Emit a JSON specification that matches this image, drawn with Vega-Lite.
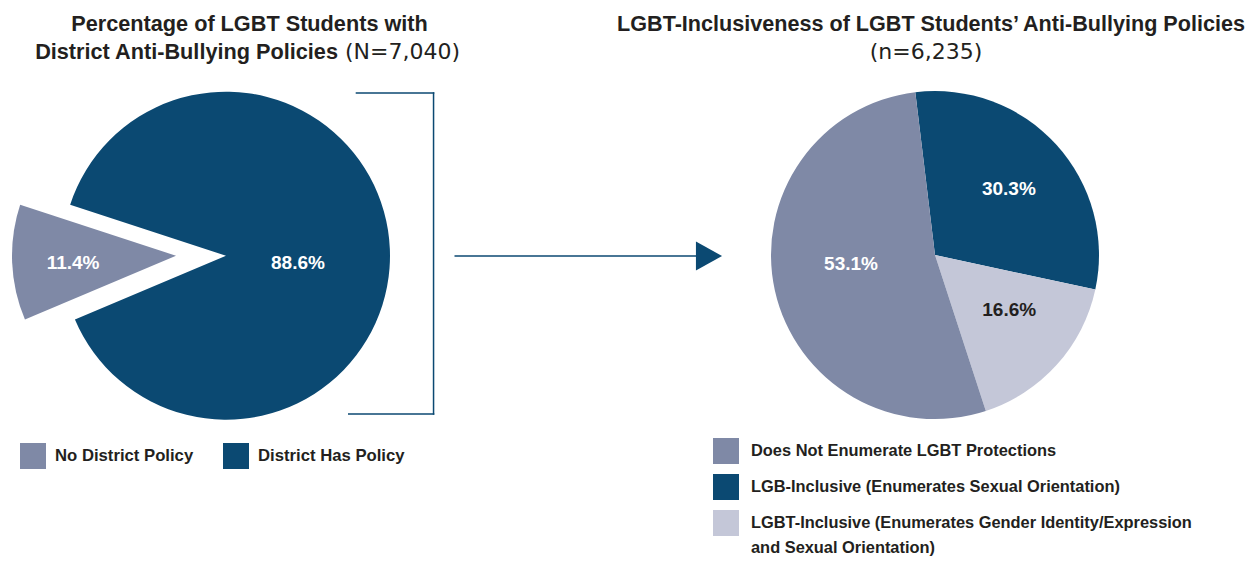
{
  "$schema": "https://vega.github.io/schema/vega-lite/v6.json",
  "width": 1256,
  "height": 563,
  "autosize": {"type": "fit", "contains": "padding"},
  "padding": 0,
  "background": "white",
  "config": {"view": {"stroke": null}, "font": "Liberation Sans"},
  "datasets": {
    "pol": [
      {"policy": "No District Policy", "share": 11.4, "ord": 1, "label": "11.4%"},
      {"policy": "District Has Policy", "share": 88.6, "ord": 2, "label": "88.6%"}
    ],
    "incl": [
      {"group": "LGB-Inclusive (Enumerates Sexual Orientation)", "pct": 30.3, "ord": 1, "label": "30.3%"},
      {"group": "LGBT-Inclusive (Enumerates Gender Identity/Expression and Sexual Orientation)", "pct": 16.6, "ord": 2, "label": "16.6%"},
      {"group": "Does Not Enumerate LGBT Protections", "pct": 53.1, "ord": 3, "label": "53.1%"}
    ],
    "one": [{}]
  },
  "layer": [
    {
      "data": {"name": "pol"},
      "layer": [
        {
          "mark": {"type": "arc", "x": 226, "y": 255.7, "outerRadius": 164},
          "encoding": {
            "theta": {"field": "share", "type": "quantitative", "stack": true, "scale": {"domain": [0, 100], "range": [4.3127, 10.5959]}},
            "order": {"field": "ord", "type": "quantitative"},
            "color": {"field": "policy", "type": "nominal", "scale": {"domain": ["No District Policy", "District Has Policy"], "range": ["#7f89a6", "#0b4972"]},
              "legend": {"orient": "none", "legendX": 20, "legendY": 443, "direction": "horizontal", "title": null, "symbolType": "square", "symbolSize": 676, "symbolStrokeWidth": 0, "symbolOpacity": 1, "labelFont": "Liberation Sans", "labelFontSize": 16.7, "labelFontWeight": "bold", "labelColor": "#231f20", "labelOffset": 9, "columnPadding": 29, "labelLimit": 0, "padding": 0}},
            "opacity": {"condition": {"test": "datum.ord === 2", "value": 1}, "value": 0}
          }
        },
        {
          "mark": {"type": "arc", "x": 176, "y": 255.7, "outerRadius": 164},
          "encoding": {
            "theta": {"field": "share", "type": "quantitative", "stack": true},
            "order": {"field": "ord", "type": "quantitative"},
            "color": {"field": "policy", "type": "nominal"},
            "opacity": {"condition": {"test": "datum.ord === 1", "value": 1}, "value": 0}
          }
        },
        {
          "mark": {"type": "text", "x": 226, "y": 255.7, "radius": 72, "dy": 10, "color": "white", "fontSize": 19, "fontWeight": "bold", "font": "Liberation Sans"},
          "encoding": {
            "theta": {"field": "share", "type": "quantitative", "stack": true},
            "order": {"field": "ord", "type": "quantitative"},
            "detail": {"field": "policy", "type": "nominal"},
            "text": {"field": "label"},
            "opacity": {"condition": {"test": "datum.ord === 2", "value": 1}, "value": 0}
          }
        },
        {
          "mark": {"type": "text", "x": 176, "y": 255.7, "radius": 103, "dy": 3, "color": "white", "fontSize": 19, "fontWeight": "bold", "font": "Liberation Sans"},
          "encoding": {
            "theta": {"field": "share", "type": "quantitative", "stack": true},
            "order": {"field": "ord", "type": "quantitative"},
            "detail": {"field": "policy", "type": "nominal"},
            "text": {"field": "label"},
            "opacity": {"condition": {"test": "datum.ord === 1", "value": 1}, "value": 0}
          }
        }
      ]
    },
    {
      "data": {"name": "incl"},
      "layer": [
        {
          "mark": {"type": "arc", "x": 935, "y": 255, "outerRadius": 164},
          "encoding": {
            "theta": {"field": "pct", "type": "quantitative", "stack": true, "scale": {"domain": [0, 100], "range": [-0.1204, 6.1628]}},
            "order": {"field": "ord", "type": "quantitative"},
            "color": {"field": "group", "type": "nominal",
              "scale": {"domain": ["Does Not Enumerate LGBT Protections", "LGB-Inclusive (Enumerates Sexual Orientation)", "LGBT-Inclusive (Enumerates Gender Identity/Expression and Sexual Orientation)"], "range": ["#7f89a6", "#0b4972", "#c4c7d8"]},
              "legend": {"orient": "none", "legendX": 713, "legendY": 438, "direction": "vertical", "title": null, "symbolType": "square", "symbolSize": 676, "symbolStrokeWidth": 0, "symbolOpacity": 1, "labelFont": "Liberation Sans", "labelFontSize": 16.4, "labelFontWeight": "bold", "labelColor": "#231f20", "labelOffset": 12, "rowPadding": 10, "labelLimit": 0, "padding": 0,
                "labelExpr": "datum.label == 'LGBT-Inclusive (Enumerates Gender Identity/Expression and Sexual Orientation)' ? ['LGBT-Inclusive (Enumerates Gender Identity/Expression', 'and Sexual Orientation)'] : datum.label",
                "encode": {"labels": {"update": {"lineHeight": {"value": 25}}}}}}
          }
        },
        {
          "mark": {"type": "text", "x": 935, "y": 255, "radius": 100, "dy": 1, "color": "white", "fontSize": 19, "fontWeight": "bold", "font": "Liberation Sans"},
          "encoding": {
            "theta": {"field": "pct", "type": "quantitative", "stack": true},
            "order": {"field": "ord", "type": "quantitative"},
            "detail": {"field": "group", "type": "nominal"},
            "text": {"field": "label"},
            "opacity": {"condition": {"test": "datum.ord === 1", "value": 1}, "value": 0}
          }
        },
        {
          "mark": {"type": "text", "x": 935, "y": 255, "radius": 100, "dy": -12, "color": "#231f20", "fontSize": 19, "fontWeight": "bold", "font": "Liberation Sans"},
          "encoding": {
            "theta": {"field": "pct", "type": "quantitative", "stack": true},
            "order": {"field": "ord", "type": "quantitative"},
            "detail": {"field": "group", "type": "nominal"},
            "text": {"field": "label"},
            "opacity": {"condition": {"test": "datum.ord === 2", "value": 1}, "value": 0}
          }
        },
        {
          "mark": {"type": "text", "x": 935, "y": 255, "radius": 86, "dy": -10, "color": "white", "fontSize": 19, "fontWeight": "bold", "font": "Liberation Sans"},
          "encoding": {
            "theta": {"field": "pct", "type": "quantitative", "stack": true},
            "order": {"field": "ord", "type": "quantitative"},
            "detail": {"field": "group", "type": "nominal"},
            "text": {"field": "label"},
            "opacity": {"condition": {"test": "datum.ord === 3", "value": 1}, "value": 0}
          }
        }
      ]
    },
    {
      "data": {"name": "one"},
      "layer": [
        {"mark": {"type": "rect", "x": 355.7, "x2": 434.3, "y": 92.3, "y2": 93.8, "color": "#0b4972", "opacity": 1}, "encoding": {}},
        {"mark": {"type": "rect", "x": 432.8, "x2": 434.3, "y": 92.3, "y2": 414.8, "color": "#0b4972", "opacity": 1}, "encoding": {}},
        {"mark": {"type": "rect", "x": 348, "x2": 434.3, "y": 413.3, "y2": 414.8, "color": "#0b4972", "opacity": 1}, "encoding": {}},
        {"mark": {"type": "rect", "x": 454.5, "x2": 700, "y": 255.2, "y2": 256.7, "color": "#0b4972", "opacity": 1}, "encoding": {}},
        {"mark": {"type": "point", "shape": "M-0.9,-1L0.9,0L-0.9,1Z", "filled": true, "size": 841, "x": 709, "y": 256, "color": "#0b4972", "opacity": 1, "strokeWidth": 0}, "encoding": {}},
        {"mark": {"type": "text", "text": "Percentage of LGBT Students with", "x": 249.5, "y": 30.5, "align": "center", "baseline": "alphabetic", "fontSize": 21.7, "fontWeight": "bold", "font": "Liberation Sans", "color": "#231f20"}, "encoding": {}},
        {"mark": {"type": "text", "text": "District Anti-Bullying Policies", "x": 338, "y": 59, "align": "right", "baseline": "alphabetic", "fontSize": 21.7, "fontWeight": "bold", "font": "Liberation Sans", "color": "#231f20"}, "encoding": {}},
        {"mark": {"type": "text", "text": "(N=7,040)", "x": 345, "y": 59, "align": "left", "baseline": "alphabetic", "fontSize": 22, "fontWeight": "normal", "font": "DejaVu Sans", "color": "#231f20"}, "encoding": {}},
        {"mark": {"type": "text", "text": "LGBT-Inclusiveness of LGBT Students’ Anti-Bullying Policies", "x": 931, "y": 30.5, "align": "center", "baseline": "alphabetic", "fontSize": 21.6, "fontWeight": "bold", "font": "Liberation Sans", "color": "#231f20"}, "encoding": {}},
        {"mark": {"type": "text", "text": "(n=6,235)", "x": 926, "y": 59, "align": "center", "baseline": "alphabetic", "fontSize": 22, "fontWeight": "normal", "font": "DejaVu Sans", "color": "#231f20"}, "encoding": {}}
      ]
    }
  ],
  "resolve": {"scale": {"theta": "independent", "color": "independent"}, "legend": {"color": "independent"}}
}
